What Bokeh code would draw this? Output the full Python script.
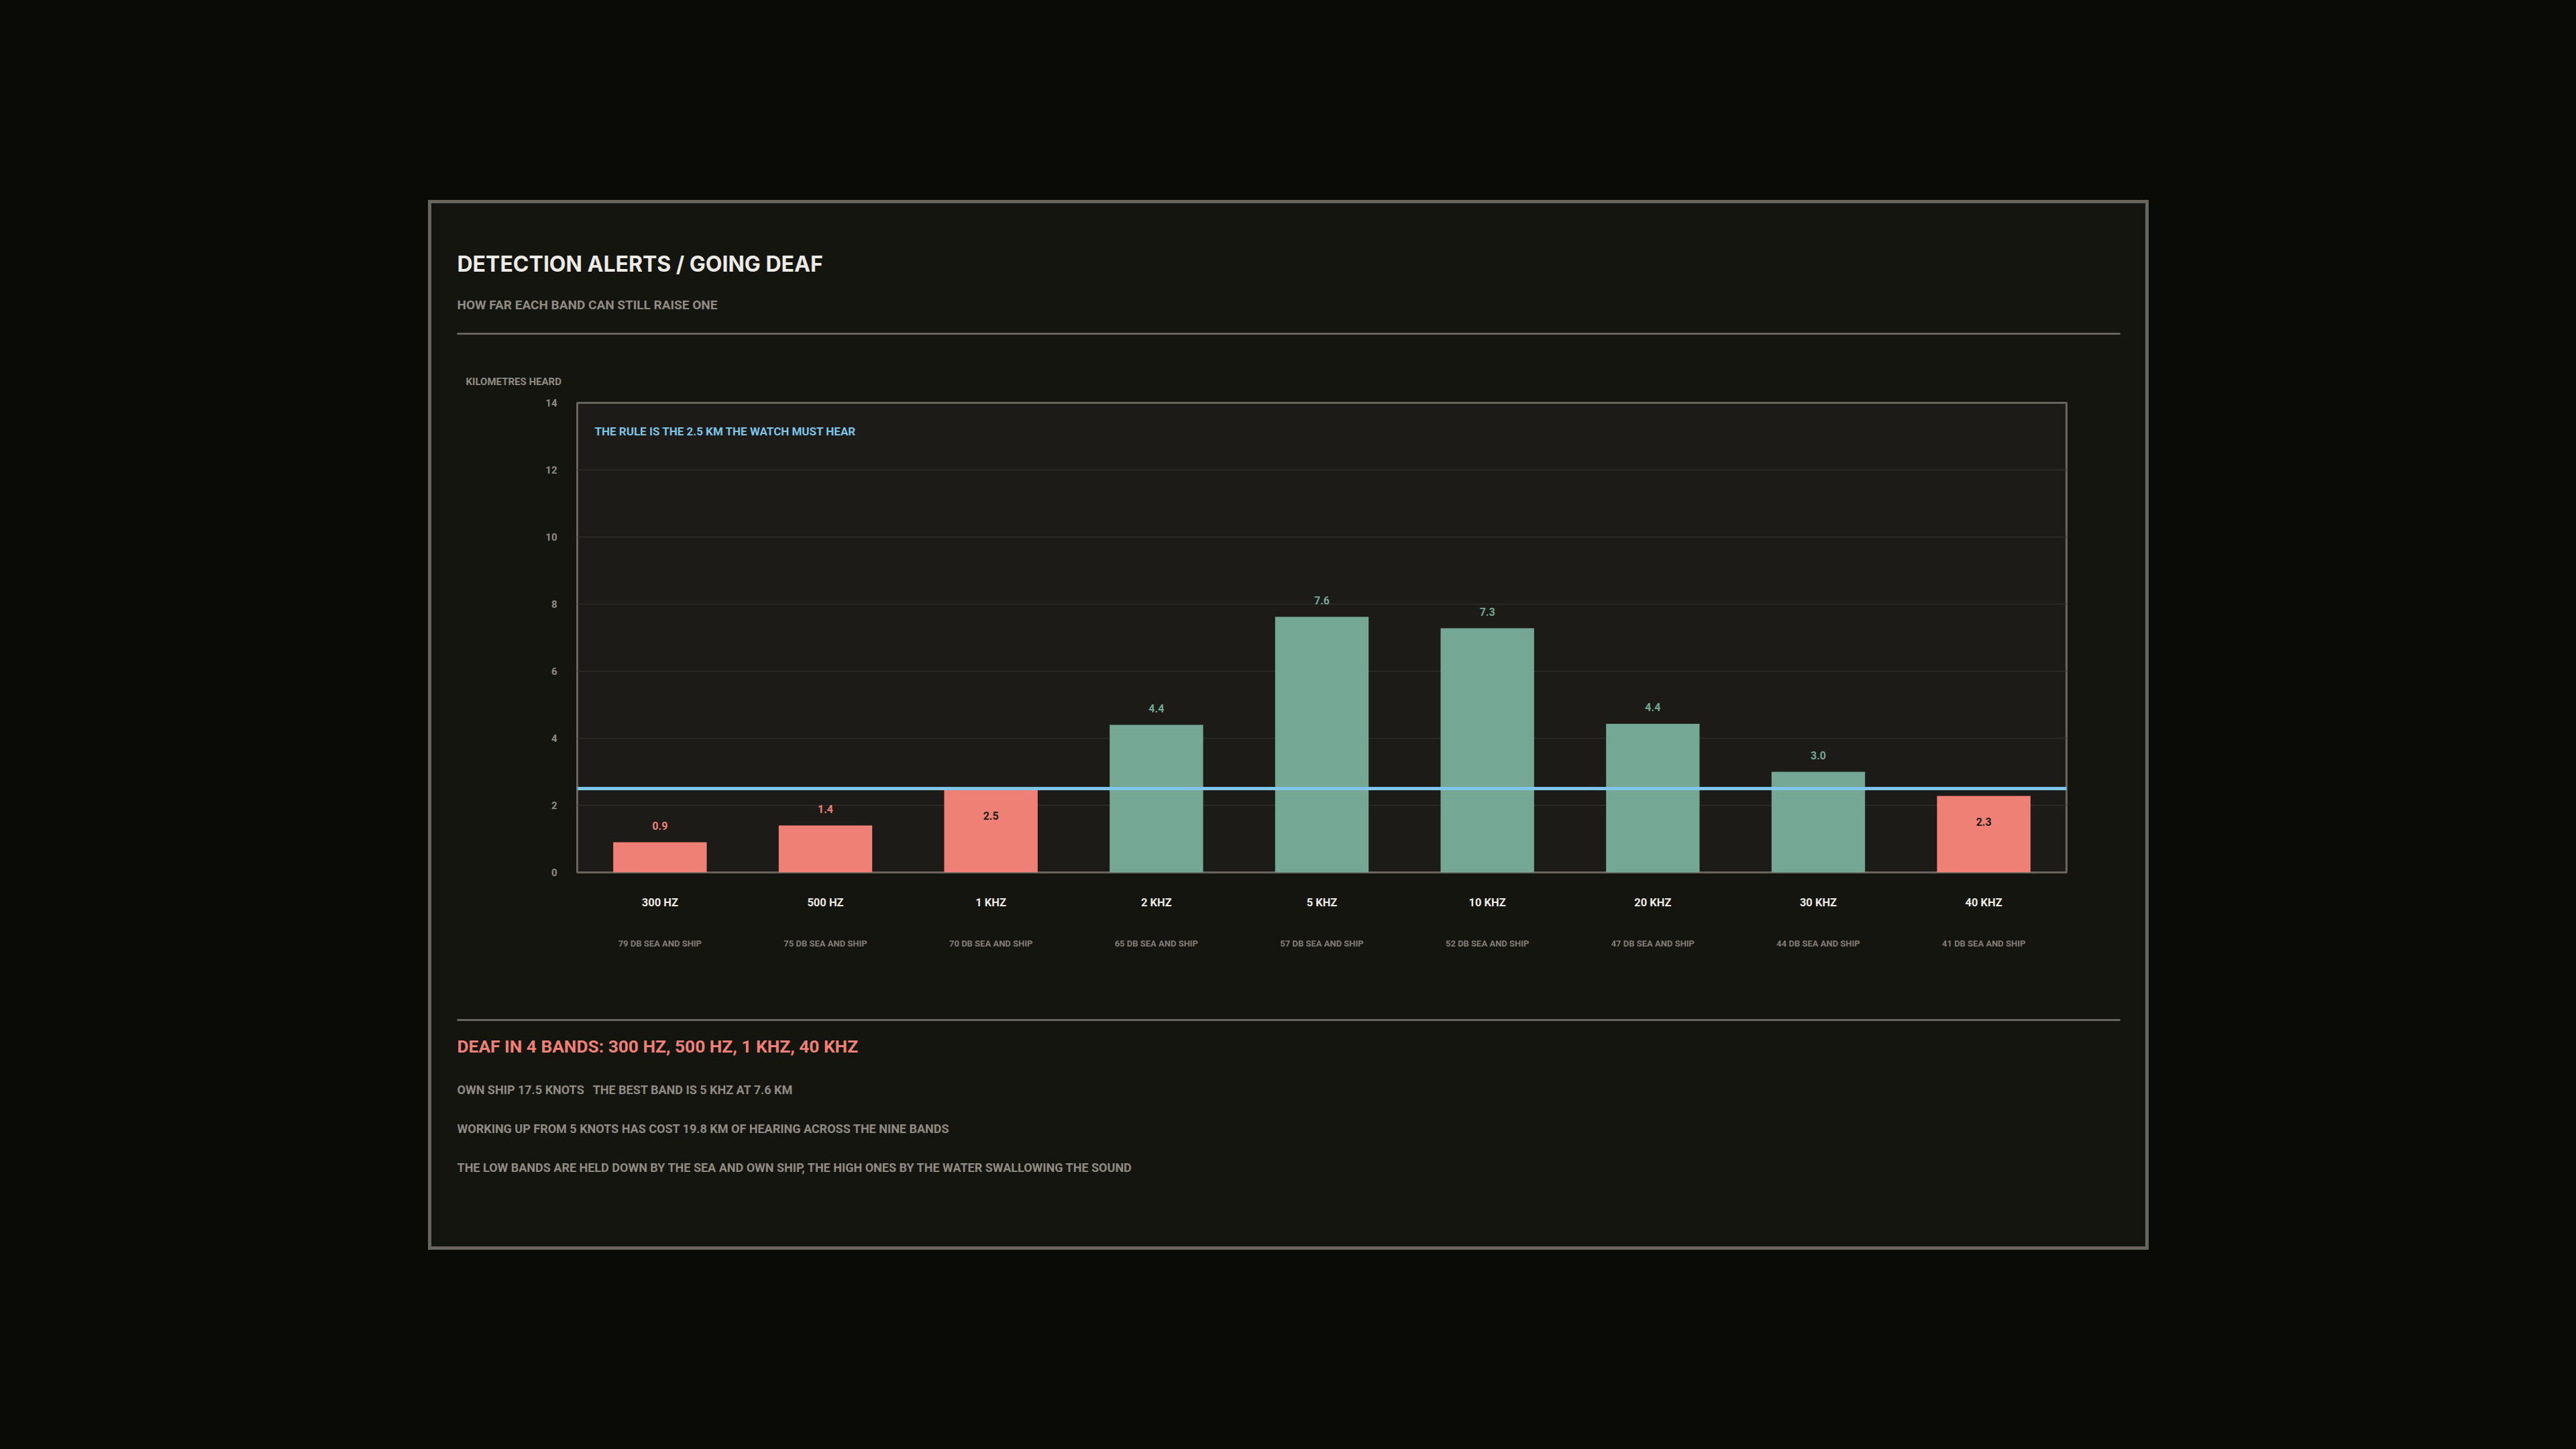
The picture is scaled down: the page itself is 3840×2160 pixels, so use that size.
from bokeh.plotting import figure
from bokeh.layouts import column
from bokeh.models import (Range1d, FactorRange, Span, Label, BoxAnnotation, CategoricalAxis,
                          ColumnDataSource, FixedTicker, GlobalInlineStyleSheet)
from bokeh.core.properties import value
from bokeh.embed import file_html
from bokeh.resources import INLINE

# ---------------- data ----------------
bands = ["300 HZ", "500 HZ", "1 KHZ", "2 KHZ", "5 KHZ", "10 KHZ", "20 KHZ", "30 KHZ", "40 KHZ"]
km_heard = [0.9, 1.4, 2.46, 4.40, 7.62, 7.28, 4.43, 3.0, 2.28]
noise_db = [79, 75, 70, 65, 57, 52, 47, 44, 41]
rule_km = 2.5
y_ticks = [0, 2, 4, 6, 8, 10, 12, 14]
own_ship_knots = 17.5
cost_km = 19.8

title_text = "DETECTION ALERTS / GOING DEAF"
subtitle_text = "HOW FAR EACH BAND CAN STILL RAISE ONE"
y_label_text = "KILOMETRES HEARD"
rule_note = "THE RULE IS THE %s KM THE WATCH MUST HEAR" % rule_km
sub_labels = ["%d DB SEA AND SHIP" % d for d in noise_db]
deaf = [b for b, v in zip(bands, km_heard) if v < rule_km]
best_i = max(range(len(bands)), key=lambda i: km_heard[i])
deaf_text = "DEAF IN %d BANDS: %s" % (len(deaf), ", ".join(deaf))
line1 = "OWN SHIP %s KNOTS\u00a0\u00a0 THE BEST BAND IS %s AT %.1f KM" % (own_ship_knots, bands[best_i], km_heard[best_i])
line2 = "WORKING UP FROM 5 KNOTS HAS COST %.1f KM OF HEARING ACROSS THE NINE BANDS" % cost_km
line3 = "THE LOW BANDS ARE HELD DOWN BY THE SEA AND OWN SHIP, THE HIGH ONES BY THE WATER SWALLOWING THE SOUND"

# ---------------- style ----------------
PAGE = "#0a0b07"
CARD = "#151510"
PLOT_BG = "#1c1b18"
EDGE = "#67655e"
GRID = "#302e29"
RED = "#ef8076"
GREEN = "#74a894"
BLUE = "#7ec5e8"
WHITE = "#ecebe5"
GREY = "#8f8c84"
SUBGREY = "#807d76"
DARK = "#1b1a16"
F = "Roboto"
FT_TITLE = "Inter"

# card geometry (page px): inner box 643..3198 x 303..1858
CX0, CY0, CW = 643, 303, 2555
HEAD_H, CHART_H, FOOT_H = 277, 870, 408
FL, FR, FTOP, FB = 860, 3080, 600, 1300   # chart frame, page px


def panel_fig(h):
    f = figure(width=CW, height=h, x_range=Range1d(0, 1), y_range=Range1d(0, 1),
               x_axis_type=None, y_axis_type=None, output_backend="svg", toolbar_location=None,
               min_border=0, min_border_left=0, min_border_right=0, min_border_top=0, min_border_bottom=0)
    f.frame_align = False
    f.background_fill_color = CARD
    f.border_fill_color = CARD
    f.outline_line_alpha = 0
    return f


def lab(f, txt, X, Y, bottom_Y, size, color, font=F, style="bold"):
    f.add_layout(Label(x=X - CX0, y=bottom_Y - Y, x_units="screen", y_units="screen", text=txt,
                       text_font=font, text_font_size=size, text_font_style=style,
                       text_color=color, text_align="left", text_baseline="middle"))


def hrule(f, Y, bottom_Y):
    f.add_layout(BoxAnnotation(left=681 - CX0, right=3160 - CX0, top=bottom_Y - Y + 1.5, bottom=bottom_Y - Y - 1.5,
                               left_units="screen", right_units="screen", top_units="screen", bottom_units="screen",
                               fill_color=EDGE, fill_alpha=1, line_alpha=0))


# ---------------- header ----------------
head = panel_fig(HEAD_H)
HB = CY0 + HEAD_H
lab(head, title_text, 681, 392.5, HB, "32px", WHITE, font=FT_TITLE)
lab(head, subtitle_text, 681, 453.5, HB, "19px", GREY)
hrule(head, 497, HB)
lab(head, y_label_text, 694, 568.5, HB, "15px", GREY)

# ---------------- chart ----------------
CT = HB
p = figure(width=CW, height=CHART_H, x_range=FactorRange(*bands), y_range=Range1d(0, 14),
           output_backend="svg", toolbar_location=None,
           min_border_left=FL - CX0, min_border_right=(CX0 + CW) - FR,
           min_border_top=FTOP - CT, min_border_bottom=(CT + CHART_H) - FB)
p.frame_align = False
p.border_fill_color = CARD
p.background_fill_color = PLOT_BG
p.outline_line_color = EDGE
p.outline_line_width = 3
p.extra_x_ranges = {"sub": FactorRange(*sub_labels)}

p.xgrid.visible = False
p.ygrid.ticker = FixedTicker(ticks=y_ticks)
p.ygrid.grid_line_color = GRID
p.ygrid.grid_line_width = 1.5

ya = p.yaxis[0]
ya.ticker = FixedTicker(ticks=y_ticks)
ya.axis_line_alpha = 0
ya.major_tick_line_alpha = 0
ya.minor_tick_line_alpha = 0
ya.major_label_standoff = 24
ya.major_label_text_font = F
ya.major_label_text_font_style = "bold"
ya.major_label_text_font_size = "15px"
ya.major_label_text_color = GREY

xa = p.below[0]
xa.axis_line_alpha = 0
xa.major_tick_line_alpha = 0
xa.minor_tick_line_alpha = 0
xa.major_tick_out = 0
xa.major_label_standoff = 35
xa.major_label_text_font = F
xa.major_label_text_font_style = "bold"
xa.major_label_text_font_size = "16.5px"
xa.major_label_text_color = WHITE

xa2 = CategoricalAxis(x_range_name="sub")
xa2.axis_line_alpha = 0
xa2.major_tick_line_alpha = 0
xa2.minor_tick_line_alpha = 0
xa2.major_tick_out = 0
xa2.major_tick_in = 0
xa2.major_label_standoff = 41
xa2.major_label_text_font = F
xa2.major_label_text_font_style = "bold"
xa2.major_label_text_font_size = "13px"
xa2.major_label_text_color = SUBGREY
p.add_layout(xa2, "below")

colors = [RED if v < rule_km else GREEN for v in km_heard]
inside = [(rule_km - 0.6) <= v <= (rule_km + 0.2) for v in km_heard]
src = ColumnDataSource(dict(
    band=bands, km=km_heard, color=colors,
    txt=["%.1f" % v for v in km_heard],
    tcolor=[DARK if ins else c for ins, c in zip(inside, colors)],
    yoff=[38 if ins else -25 for ins in inside],
))
p.vbar(x="band", top="km", width=0.565, source=src, fill_color="color", line_alpha=0)
p.text(x="band", y="km", text="txt", source=src, text_color="tcolor", y_offset="yoff",
       text_align="center", text_baseline="middle", text_font=value(F),
       text_font_size="16px", text_font_style="bold")

p.add_layout(Span(location=rule_km, dimension="width", line_color=BLUE, line_width=5))
p.add_layout(Label(x=886 - FL, y=FB - 642.5, x_units="screen", y_units="screen", text=rule_note,
                   text_font=F, text_font_size="17px", text_font_style="bold",
                   text_color=BLUE, text_align="left", text_baseline="middle"))

# ---------------- footer ----------------
foot = panel_fig(FOOT_H)
FBOT = CT + CHART_H + FOOT_H
hrule(foot, 1520, FBOT)
lab(foot, deaf_text, 681, 1559.5, FBOT, "26.3px", RED)
lab(foot, line1, 681, 1624, FBOT, "18px", GREY)
lab(foot, line2, 681, 1682, FBOT, "18px", GREY)
lab(foot, line3, 681, 1740, FBOT, "18px", GREY)

card = column(head, p, foot, spacing=0, margin=(CY0, 0, 0, CX0),
              styles={"background-color": CARD, "outline": "5.5px solid " + EDGE})
root = column(card, width=3840, height=2160, spacing=0, margin=0,
              styles={"background-color": PAGE})
root.stylesheets = [GlobalInlineStyleSheet(css="html, body { margin: 0; padding: 0; background-color: %s; }" % PAGE)]

open("out.html", "w").write(file_html(root, INLINE))
